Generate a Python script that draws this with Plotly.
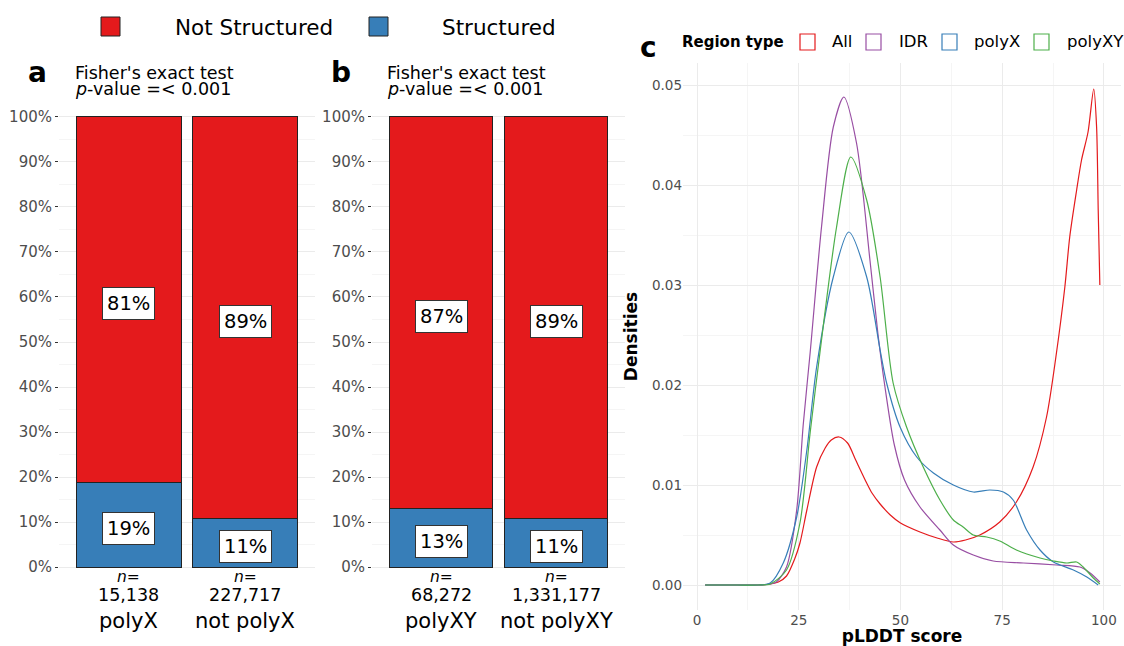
import plotly.graph_objects as go

W, H = 1124, 646
FONT = "DejaVu Sans"
RED, BLUE, PURPLE, GREEN = "#E41A1C", "#377EB8", "#984EA3", "#4DAF4A"
GRID, MINOR = "#EBEBEB", "#F5F5F5"
TXT = "#4D4D4D"

# ---------------- data ----------------
cats_a = ["polyX", "not polyX"]
n_a = ["15,138", "227,717"]
struct_a = [0.187, 0.107]

cats_b = ["polyXY", "not polyXY"]
n_b = ["68,272", "1,331,177"]
struct_b = [0.131, 0.107]

all_x = [2, 10, 15, 18, 20, 22, 24, 25.3, 27, 29.4, 31.5, 33, 34.9, 37, 39, 41.7, 43, 45, 47.5, 50,
         54.8, 59, 63, 66, 69.5, 74.4, 78.5, 82.6, 85.9, 88.2, 90.4, 91.6, 93.3, 94.5, 96.1, 97.5,
         98.2, 98.6, 99.0]
all_y = [0, 0, 0, 0.0001, 0.0003, 0.0009, 0.0026, 0.0042, 0.0075, 0.0118, 0.0137, 0.0145, 0.0148,
         0.0142, 0.0125, 0.0102, 0.0092, 0.0081, 0.0070, 0.0062, 0.0053, 0.0047, 0.0043, 0.0045,
         0.0050, 0.0063, 0.0083, 0.0118, 0.0168, 0.0228, 0.0298, 0.0348, 0.0395, 0.0425, 0.0453,
         0.0496, 0.0458, 0.0375, 0.0300]

idr_x = [2, 10, 15, 18, 19.5, 22, 24.5, 26.1, 27.8, 30.6, 33.5, 36.1, 39.2, 42.5, 44.5, 46.3, 48.5,
         51, 54.8, 59.7, 63, 67.9, 72.8, 80.2, 88.4, 94.1, 96.6, 99]
idr_y = [0, 0, 0, 0.0001, 0.0003, 0.0018, 0.0075, 0.0160, 0.0232, 0.0358, 0.0458, 0.0488, 0.0442,
         0.0325, 0.0250, 0.0195, 0.0140, 0.0105, 0.0078, 0.0055, 0.0040, 0.0030, 0.0024, 0.0022,
         0.0020, 0.0018, 0.0012, 0.0003]

polyx_x = [2, 10, 15, 18, 21.2, 24.5, 27, 29.4, 33.5, 37.3, 41.7, 45, 46.6, 49.9, 54, 58.1, 63,
           67.9, 72, 75.3, 77.7, 81, 84.3, 87.6, 92.5, 95.8, 98.6]
polyx_y = [0, 0, 0, 0.0002, 0.0022, 0.0068, 0.0135, 0.0218, 0.0308, 0.0353, 0.0308, 0.0235,
           0.0202, 0.0158, 0.0128, 0.0112, 0.0100, 0.0093, 0.0095, 0.0093, 0.0085, 0.0055, 0.0035,
           0.0023, 0.0015, 0.0008, 0.0]

polyxy_x = [2, 10, 15, 18, 22, 25.3, 27.8, 30.2, 34.3, 37.8, 41.7, 45, 48.2, 51.5, 55.6, 59.7, 63,
            65.4, 67.9, 71.2, 74.4, 78.5, 84.3, 87.6, 90.9, 93.3, 94.9, 97.4, 99]
polyxy_y = [0, 0, 0, 0.0001, 0.0015, 0.0062, 0.0152, 0.0232, 0.0358, 0.0428, 0.0385, 0.0308,
            0.0202, 0.0158, 0.0118, 0.0085, 0.0065, 0.0058, 0.0050, 0.0048, 0.0044, 0.0035,
            0.0027, 0.0024, 0.0022, 0.0023, 0.0018, 0.0007, 0.0001]

region_names = ["All", "IDR", "polyX", "polyXY"]
region_colors = [RED, PURPLE, BLUE, GREEN]
region_x = [all_x, idr_x, polyx_x, polyxy_x]
region_y = [all_y, idr_y, polyx_y, polyxy_y]

# ---------------- figure ----------------
fig = go.Figure()

def px_x(p):
    return p / W

def px_y(p):
    return 1 - p / H

annotations = []
shapes = []

for xa, ya, cats, ns, struct in [("x", "y", cats_a, n_a, struct_a), ("x2", "y2", cats_b, n_b, struct_b)]:
    notstruct = [1 - s for s in struct]
    fig.add_trace(go.Bar(x=cats, y=struct, marker=dict(color=BLUE, line=dict(color="#222222", width=1)),
                         width=0.9, xaxis=xa, yaxis=ya, showlegend=False, hoverinfo="skip"))
    fig.add_trace(go.Bar(x=cats, y=notstruct, marker=dict(color=RED, line=dict(color="#222222", width=1)),
                         width=0.9, xaxis=xa, yaxis=ya, showlegend=False, hoverinfo="skip"))
    for c, s, ns_, n in zip(cats, struct, notstruct, ns):
        for val, mid in [(s, s / 2), (ns_, s + ns_ / 2)]:
            annotations.append(dict(x=c, y=mid, xref=xa, yref=ya, text=f"{round(val*100)}%",
                                    showarrow=False, font=dict(family=FONT, size=19.5, color="black"),
                                    bgcolor="white", bordercolor="#333333", borderwidth=1, borderpad=4,
                                    yshift=-4))
        annotations.append(dict(x=c, y=px_y(577), xref=xa, yref="paper", text="<i>n=</i>", showarrow=False,
                                font=dict(family=FONT, size=15.5, color="black"), yanchor="middle"))
        annotations.append(dict(x=c, y=px_y(595), xref=xa, yref="paper", text=n, showarrow=False,
                                font=dict(family=FONT, size=17.5, color="black"), yanchor="middle"))
        annotations.append(dict(x=c, y=px_y(621), xref=xa, yref="paper", text=c, showarrow=False,
                                font=dict(family=FONT, size=21, color="black"), yanchor="middle"))

for name, col, xs, ys in zip(region_names, region_colors, region_x, region_y):
    fig.add_trace(go.Scatter(x=xs, y=ys, mode="lines", line=dict(color=col, width=1.2, shape="spline", smoothing=0.8),
                             xaxis="x3", yaxis="y3", name=name, showlegend=False, hoverinfo="skip"))

bar_y_dom = [px_y(589.5), px_y(94.5)]
common_bar_y = dict(range=[-0.0499, 1.0499], tickformat=".0%", dtick=0.1, tick0=0,
                    showgrid=True, gridcolor=GRID, gridwidth=1, zeroline=False,
                    ticks="outside", ticklen=3, tickcolor="#333333",
                    tickfont=dict(family=FONT, size=15, color=TXT),
                    minor=dict(dtick=0.05, tick0=0, showgrid=True, gridcolor=MINOR, gridwidth=1, ticks=""),
                    domain=bar_y_dom)
common_bar_x = dict(range=[-0.6, 1.6], showticklabels=False, showgrid=False, zeroline=False, ticks="")

fig.update_layout(
    width=W, height=H, margin=dict(l=0, r=0, t=0, b=0),
    paper_bgcolor="white", plot_bgcolor="white", barmode="stack", showlegend=False,
    xaxis=dict(domain=[px_x(59), px_x(315)], anchor="y", **common_bar_x),
    yaxis=dict(anchor="x", **common_bar_y),
    xaxis2=dict(domain=[px_x(372), px_x(625)], anchor="y2", **common_bar_x),
    yaxis2=dict(anchor="x2", **common_bar_y),
    xaxis3=dict(domain=[px_x(683), px_x(1121)], anchor="y3", range=[-3.44, 104.2],
                tickvals=[0, 25, 50, 75, 100], showgrid=True, gridcolor=GRID, zeroline=False,
                minor=dict(dtick=12.5, tick0=0, showgrid=True, gridcolor=MINOR),
                tickfont=dict(family=FONT, size=13.5, color=TXT), ticks="",
                title=dict(text="<b>pLDDT score</b>", font=dict(family=FONT, size=17, color="black"), standoff=2)),
    yaxis3=dict(domain=[px_y(610), px_y(63)], anchor="x3", range=[-0.0025, 0.0522],
                tickvals=[0, 0.01, 0.02, 0.03, 0.04, 0.05], tickformat=".2f", showgrid=True,
                gridcolor=GRID, zeroline=False,
                minor=dict(dtick=0.005, tick0=0, showgrid=True, gridcolor=MINOR),
                tickfont=dict(family=FONT, size=13.5, color=TXT), ticks="",
                title=dict(text="<b>Densities</b>", font=dict(family=FONT, size=17, color="black"), standoff=9)),
)

# top legend (panels a, b)
for x0, col, label, tx in [(101, RED, "Not Structured", 173), (369, BLUE, "Structured", 440)]:
    shapes.append(dict(type="rect", xref="paper", yref="paper", x0=px_x(x0), x1=px_x(x0 + 19),
                       y0=px_y(36), y1=px_y(17), fillcolor=col, line=dict(color="#222222", width=1)))
    annotations.append(dict(x=px_x(tx), y=px_y(27), xref="paper", yref="paper", text=label, showarrow=False,
                            xanchor="left", yanchor="middle", font=dict(family=FONT, size=21.5, color="black")))

# panel letters and subtitles
for letter, lx, ly, tx in [("a", 37, 73, 73), ("b", 341, 73, 385)]:
    annotations.append(dict(x=px_x(lx), y=px_y(ly), xref="paper", yref="paper", text=f"<b>{letter}</b>",
                            showarrow=False, xanchor="center", yanchor="middle",
                            font=dict(family=FONT, size=28, color="black")))
    annotations.append(dict(x=px_x(tx), y=px_y(73), xref="paper", yref="paper", text="Fisher's exact test",
                            showarrow=False, xanchor="left", yanchor="middle",
                            font=dict(family=FONT, size=17.5, color="black")))
    annotations.append(dict(x=px_x(tx), y=px_y(89), xref="paper", yref="paper",
                            text="<i>p</i>-value =&lt; 0.001",
                            showarrow=False, xanchor="left", yanchor="middle",
                            font=dict(family=FONT, size=17.5, color="black")))

annotations.append(dict(x=px_x(649), y=px_y(48), xref="paper", yref="paper", text="<b>c</b>",
                        showarrow=False, xanchor="center", yanchor="middle",
                        font=dict(family=FONT, size=28, color="black")))

# panel c legend
annotations.append(dict(x=px_x(680), y=px_y(42), xref="paper", yref="paper", text="<b>Region type</b>",
                        showarrow=False, xanchor="left", yanchor="middle",
                        font=dict(family=FONT, size=15, color="black")))
for name, col, sx, tx in zip(region_names, region_colors, [800, 866, 942, 1034], [830, 897, 972, 1065]):
    shapes.append(dict(type="rect", xref="paper", yref="paper", x0=px_x(sx), x1=px_x(sx + 15),
                       y0=px_y(50), y1=px_y(34), fillcolor="white", line=dict(color=col, width=1.2)))
    annotations.append(dict(x=px_x(tx), y=px_y(42), xref="paper", yref="paper", text=name, showarrow=False,
                            xanchor="left", yanchor="middle", font=dict(family=FONT, size=16.5, color="black")))

fig.update_layout(annotations=annotations, shapes=shapes)
fig.write_html("out.html", config={"displayModeBar": False},
               post_script="document.body.style.margin='0';document.body.style.overflow='hidden';")
